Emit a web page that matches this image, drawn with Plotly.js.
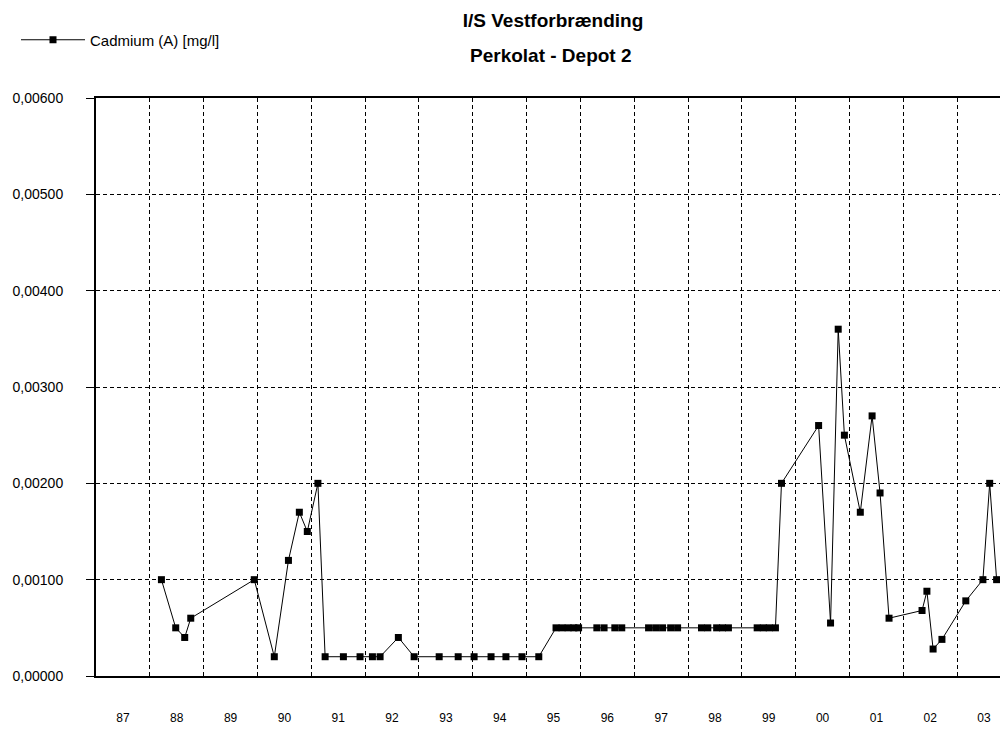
<!DOCTYPE html>
<html>
<head>
<meta charset="utf-8">
<script src="https://cdn.plot.ly/plotly-3.0.1.min.js"></script>
<style>html,body{margin:0;padding:0;background:#fff;}#chart{width:1000px;height:732px;}</style>
</head>
<body>
<div id="chart"></div>
<script>
// Sampling dates
const dates = [
  "1988-03-20","1988-06-25","1988-08-25","1988-10-05",
  "1989-12-10","1990-04-25","1990-07-30","1990-10-12","1990-12-05","1991-02-15",
  "1991-04-05","1991-08-07","1991-11-28","1992-02-20","1992-04-12","1992-08-14","1992-11-29",
  "1993-05-18","1993-09-24","1994-01-10","1994-05-05","1994-08-14","1994-12-01","1995-03-25",
  "1995-07-20","1995-08-30","1995-10-10","1995-11-18","1995-12-20",
  "1996-04-22","1996-06-10","1996-08-22","1996-10-08",
  "1997-04-08","1997-05-26","1997-07-12","1997-09-05","1997-10-22",
  "1998-04-02","1998-05-15","1998-07-14","1998-08-23","1998-10-02",
  "1999-04-15","1999-05-27","1999-07-06","1999-08-17","1999-09-27",
  "2000-06-05","2000-08-25","2000-10-16","2000-11-27",
  "2001-03-15","2001-06-03","2001-07-27","2001-09-26",
  "2002-05-08","2002-06-10","2002-07-22","2002-09-20",
  "2003-03-01","2003-06-25","2003-08-10","2003-09-26"
];
// Cadmium (A) [mg/l]
const cadmium = [
  0.0010,0.0005,0.0004,0.0006,
  0.0010,0.0002,0.0012,0.0017,0.0015,0.0020,
  0.0002,0.0002,0.0002,0.0002,0.0002,0.0004,0.0002,
  0.0002,0.0002,0.0002,0.0002,0.0002,0.0002,0.0002,
  0.0005,0.0005,0.0005,0.0005,0.0005,
  0.0005,0.0005,0.0005,0.0005,
  0.0005,0.0005,0.0005,0.0005,0.0005,
  0.0005,0.0005,0.0005,0.0005,0.0005,
  0.0005,0.0005,0.0005,0.0005,0.0020,
  0.0026,0.00055,0.0036,0.0025,
  0.0017,0.0027,0.0019,0.0006,
  0.00068,0.00088,0.00028,0.00038,
  0.00078,0.0010,0.0020,0.0010
];
const seriesName = "Cadmium (A) [mg/l]";
const titleLine1 = "I/S Vestforbrænding";
const titleLine2 = "Perkolat - Depot 2";

const fontFam = "Arial, 'Liberation Sans', sans-serif";
const L = 96, R = 1000, T = 98, B = 676;
const W = R - L, H = B - T;

const trace = {
  x: dates, y: cadmium, name: seriesName,
  type: "scatter", mode: "lines+markers",
  line: {color: "#000", width: 1},
  marker: {symbol: "square", size: 7, color: "#000"},
  showlegend: true
};

const layout = {
  width: 1000, height: 732,
  margin: {l: L, r: 1000 - R, t: T, b: 732 - B},
  paper_bgcolor: "#fff", plot_bgcolor: "#fff",
  separators: ",.",
  font: {family: fontFam, color: "#000", size: 12},
  title: {
    text: "<b>" + titleLine1 + "</b>",
    x: 553/1000, xref: "container", xanchor: "center",
    y: 1 - 20/732, yref: "container", yanchor: "middle",
    font: {family: fontFam, size: 19, color: "#000"}
  },
  annotations: [{
    text: "<b>" + titleLine2 + "</b>",
    xref: "paper", yref: "paper",
    x: (551 - L)/W, y: (B - 55)/H,
    xanchor: "center", yanchor: "middle",
    showarrow: false,
    font: {family: fontFam, size: 19, color: "#000"}
  }],
  showlegend: true,
  legend: {
    x: (16 - L)/W, y: (B - 40)/H, xanchor: "left", yanchor: "middle",
    bgcolor: "rgba(0,0,0,0)", font: {size: 15, family: fontFam},
    itemwidth: 64
  },
  xaxis: {
    type: "date",
    range: ["1987-01-01", "2003-10-19"],
    tick0: "1987-01-01", dtick: "M12",
    tickformat: "%y", ticklabelmode: "period",
    showgrid: true, gridcolor: "#000", gridwidth: 1, griddash: "4px,3px",
    showline: true, linecolor: "#000", linewidth: 2, mirror: true,
    ticks: "", ticklen: 0, ticklabelstandoff: 30,
    tickfont: {size: 12, family: fontFam},
    zeroline: false, fixedrange: true
  },
  yaxis: {
    range: [0, 0.006],
    tickvals: [0, 0.001, 0.002, 0.003, 0.004, 0.005, 0.006],
    tickformat: ".5f",
    showgrid: true, gridcolor: "#000", gridwidth: 1, griddash: "4px,3px",
    showline: true, linecolor: "#000", linewidth: 2,
    ticks: "outside", ticklen: 8, tickcolor: "#000", tickwidth: 1,
    ticklabelstandoff: 20,
    tickfont: {size: 14, family: fontFam},
    zeroline: false, fixedrange: true
  }
};

Plotly.newPlot("chart", [trace], layout, {displayModeBar: false, staticPlot: true});
</script>
</body>
</html>
